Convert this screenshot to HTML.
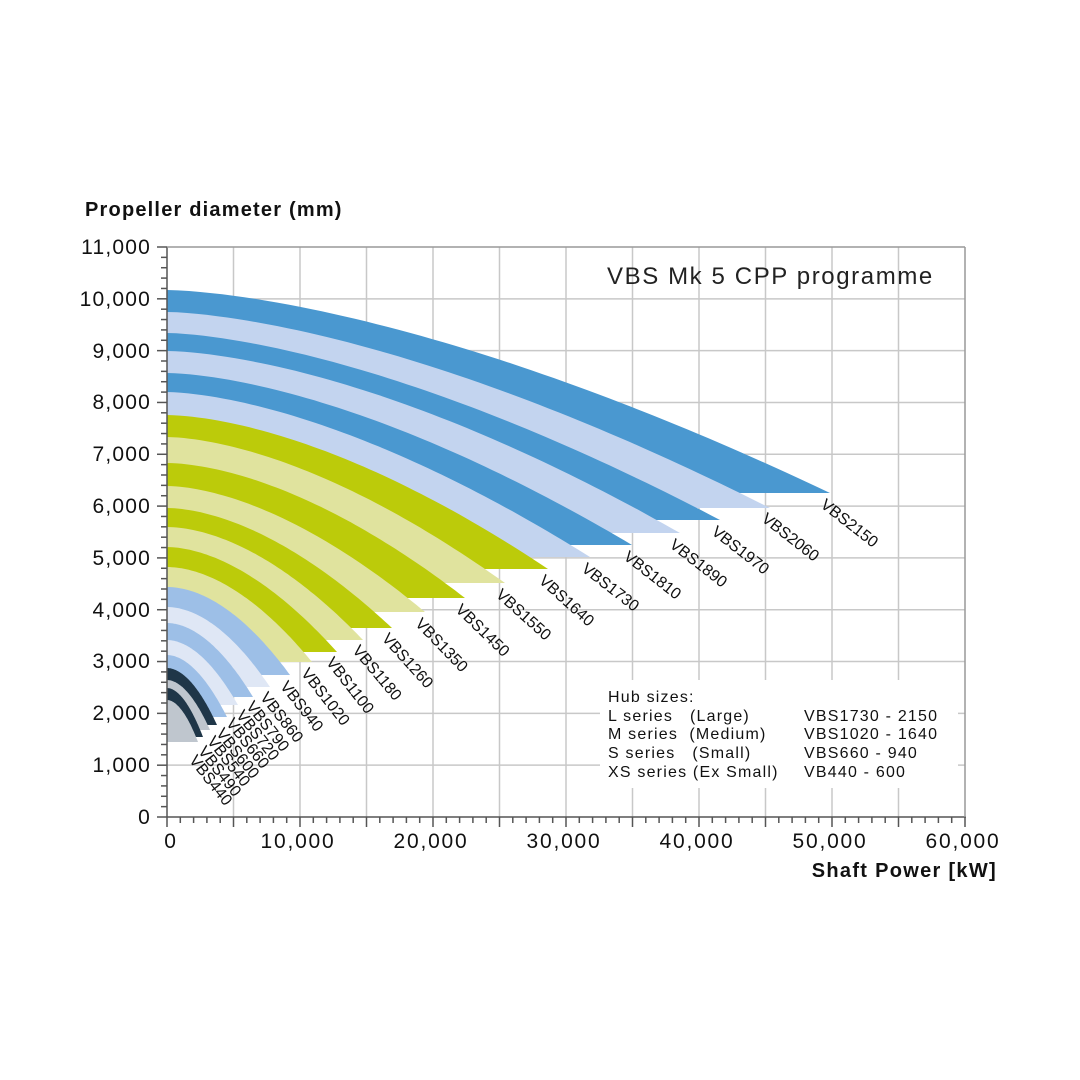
<!DOCTYPE html>
<html><head><meta charset="utf-8"><style>
html,body{margin:0;padding:0;background:#fff;}
svg{display:block;font-family:"Liberation Sans",sans-serif;}
</style></head><body>
<svg id="s" width="1080" height="1080" viewBox="0 0 1080 1080" xmlns="http://www.w3.org/2000/svg">
<rect width="1080" height="1080" fill="#fff"/>
<g id="grid" stroke="#c8c8c8" stroke-width="1.5"></g>
<g id="bands"></g>
<rect x="600" y="680" width="358" height="108" fill="#fff"/>
<g id="axes" stroke="#555" stroke-width="1.5"></g>
<text x="607" y="284" font-size="24" fill="#222" letter-spacing="1.6">VBS Mk 5 CPP programme</text>
<g font-size="16" fill="#111" letter-spacing="1.2">
<text x="608" y="702">Hub sizes:</text>
<text x="608" y="721">L series&#160;&#160;&#160;(Large)</text>
<text x="608" y="739">M series&#160;&#160;(Medium)</text>
<text x="608" y="758">S series&#160;&#160;&#160;(Small)</text>
<text x="608" y="777">XS series (Ex Small)</text>
<text x="804" y="721">VBS1730 - 2150</text>
<text x="804" y="739">VBS1020 - 1640</text>
<text x="804" y="758">VBS660 - 940</text>
<text x="804" y="777">VB440 - 600</text>
</g>
<text x="85" y="216" font-size="20" font-weight="bold" fill="#111" letter-spacing="1.2">Propeller diameter (mm)</text>
<text x="997" y="877" font-size="20" font-weight="bold" fill="#111" text-anchor="end" letter-spacing="1.3">Shaft Power [kW]</text>
<g font-size="21" fill="#111" text-anchor="end" letter-spacing="1.2">
<text x="151" y="254">11,000</text><text x="151" y="306">10,000</text><text x="151" y="358">9,000</text>
<text x="151" y="409">8,000</text><text x="151" y="461">7,000</text><text x="151" y="513">6,000</text>
<text x="151" y="565">5,000</text><text x="151" y="617">4,000</text><text x="151" y="668">3,000</text>
<text x="151" y="720">2,000</text><text x="151" y="772">1,000</text><text x="151" y="824">0</text>
</g>
<g font-size="21" fill="#111" text-anchor="middle" letter-spacing="1.8">
<text x="171" y="848">0</text><text x="298" y="848">10,000</text><text x="431" y="848">20,000</text>
<text x="564" y="848">30,000</text><text x="697" y="848">40,000</text><text x="830" y="848">50,000</text>
<text x="963" y="848">60,000</text>
</g>
<g font-size="16" fill="#111">
<text transform="translate(827,497) rotate(38)" dy="12">VBS2150</text>
<text transform="translate(768,511) rotate(38)" dy="12">VBS2060</text>
<text transform="translate(718,524) rotate(38)" dy="12">VBS1970</text>
<text transform="translate(676,537) rotate(38)" dy="12">VBS1890</text>
<text transform="translate(630,549) rotate(38)" dy="12">VBS1810</text>
<text transform="translate(588,561) rotate(38)" dy="12">VBS1730</text>
<text transform="translate(546,573) rotate(42)" dy="12">VBS1640</text>
<text transform="translate(503,587) rotate(42)" dy="12">VBS1550</text>
<text transform="translate(463,602) rotate(44)" dy="12">VBS1450</text>
<text transform="translate(423,616) rotate(46)" dy="12">VBS1350</text>
<text transform="translate(390,631) rotate(48)" dy="12">VBS1260</text>
<text transform="translate(361,643) rotate(50)" dy="12">VBS1180</text>
<text transform="translate(335,655) rotate(52)" dy="12">VBS1100</text>
<text transform="translate(310,666) rotate(52)" dy="12">VBS1020</text>
<text transform="translate(289,679) rotate(52)" dy="12">VBS940</text>
<text transform="translate(269,690) rotate(52)" dy="12">VBS860</text>
<text transform="translate(255,699) rotate(52)" dy="12">VBS790</text>
<text transform="translate(245,708) rotate(52)" dy="12">VBS720</text>
<text transform="translate(235,716) rotate(52)" dy="12">VBS660</text>
<text transform="translate(225,726) rotate(52)" dy="12">VBS600</text>
<text transform="translate(216,734) rotate(52)" dy="12">VBS540</text>
<text transform="translate(207,744) rotate(52)" dy="12">VBS490</text>
<text transform="translate(198,753) rotate(52)" dy="12">VBS440</text>
</g>
</svg>
<script>
var NS="http://www.w3.org/2000/svg";
function el(p,t,a){var e=document.createElementNS(NS,t);for(var k in a)e.setAttribute(k,a[k]);p.appendChild(e);return e;}
var g=document.getElementById('grid'),ax=document.getElementById('axes'),b=document.getElementById('bands');
var X0=167,X1=965,Y0=817,Y1=247;
for(var i=1;i<12;i++){var x=X0+i*(X1-X0)/12;el(g,'line',{x1:x,y1:Y1,x2:x,y2:Y0});}
for(var i=1;i<11;i++){var y=Y0-i*(Y0-Y1)/11;el(g,'line',{x1:X0,y1:y,x2:X1,y2:y});}
el(ax,'line',{x1:X0,y1:Y1,x2:X0,y2:Y0});
el(ax,'line',{x1:X0,y1:Y0,x2:X1+1,y2:Y0});
el(ax,'line',{x1:X1,y1:Y1,x2:X1,y2:Y0,stroke:'#999'});
el(ax,'line',{x1:X0,y1:Y1,x2:X1,y2:Y1,stroke:'#999'});
for(var i=0;i<=55;i++){var y=Y0-i*(Y0-Y1)/55;var L=(i%5==0)?10:6;el(ax,'line',{x1:X0-L,y1:y,x2:X0,y2:y});}
for(var i=0;i<=60;i++){var x=X0+i*(X1-X0)/60;var L=(i%5==0)?10:6;el(ax,'line',{x1:x,y1:Y0,x2:x,y2:Y0+L});}
var C={L1:'#4a98d0',L2:'#c3d4ef',M1:'#bccb0a',M2:'#e0e39e',S1:'#9dbfe7',S2:'#dfe7f5',X1:'#1f3648',X2:'#bfc6ce'};
var d=[[290,830,493,'L1',1.55],[312,770,508,'L2',1.55],[333,720,520,'L1',1.55],[351,680,533,'L2',1.6],[373,632,545,'L1',1.6],[392,590,557,'L2',1.6],
[415,548,569,'M1',1.65],[437,505,583,'M2',1.65],[463,465,598,'M1',1.7],[486,425,612,'M2',1.7],[508,392,628,'M1',1.75],[527,363,640,'M2',1.8],[547,337,652,'M1',1.8],[567,312,662,'M2',1.85],
[587,290,675,'S1',1.9],[607,270,687,'S2',1.9],[623,253,697,'S1',1.9],[640,238,705,'S2',1.9],[655,227,717,'S1',1.9],
[668,217,725,'X1',1.9],[680,210,730,'X2',1.9],[688,203,737,'X1',1.9],[700,198,742,'X2',1.9]];
d.forEach(function(r){var y0=r[0],xe=r[1],ye=r[2],k=r[4];var p='M'+X0+','+y0;
for(var j=1;j<=60;j++){var t=j/60;p+=' L'+(X0+(xe-X0)*t).toFixed(1)+','+(y0+(ye-y0)*Math.pow(t,k)).toFixed(1);}
p+=' L'+X0+','+ye+' Z';el(b,'path',{d:p,fill:C[r[3]]});});
</script>
</body></html>
